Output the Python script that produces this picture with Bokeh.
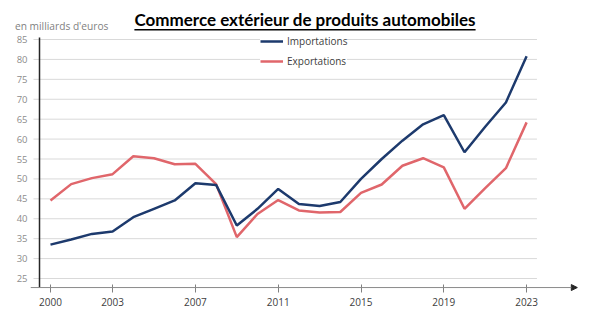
from bokeh.plotting import figure
from bokeh.layouts import column
from bokeh.models import (Range1d, FixedTicker, Arrow, NormalHead,
                          ColumnDataSource, Div)
from bokeh.embed import file_html
from bokeh.resources import INLINE

# ---- data ----
years = list(range(2000, 2024))
importations = [33.5, 34.8, 36.2, 36.8, 40.4, 42.5, 44.6, 48.9, 48.5, 38.3,
                42.5, 47.5, 43.7, 43.2, 44.2, 50.0, 55.0, 59.6, 63.7, 66.0,
                56.7, 63.1, 69.2, 80.8]
exportations = [44.6, 48.7, 50.2, 51.2, 55.7, 55.2, 53.7, 53.8, 48.7, 35.4,
                41.2, 44.7, 42.1, 41.6, 41.7, 46.5, 48.6, 53.3, 55.2, 52.9,
                42.5, 47.7, 52.7, 64.2]
x_tick_years = [2000, 2003, 2007, 2011, 2015, 2019, 2023]
y_ticks = [25, 30, 35, 40, 45, 50, 55, 60, 65, 70, 75, 80, 85]

title_text = "Commerce extérieur de produits automobiles"
unit_text = "en milliards d'euros"

BLUE = "#1d3a6d"
RED = "#e0666b"

# ranges / axis geometry
x_start, x_end = 1999.034, 2025.70
y_start, y_end = 21.49, 87.26
y_axis_x = 1999.469      # where the vertical axis line sits
x_axis_y = 22.73         # where the horizontal axis line sits
grid_x0, grid_x1 = 1999.178, 2023.5
y_axis_top = 85.5
arrow_tip = 2025.45

# ---- header (title + unit) ----
header_html = (
    '<div style="position:relative;width:609px;height:30px;margin:0;padding:0;">'
    '<span style="position:absolute;left:15px;top:21px;white-space:nowrap;'
    'font-family:\'Open Sans\';font-size:10.2px;line-height:10px;color:#7f7f7f;">'
    + unit_text + '</span>'
    '<span style="position:absolute;left:0;width:610px;top:11px;text-align:center;'
    'white-space:nowrap;font-family:Lato;font-weight:bold;font-size:17px;line-height:17px;'
    'color:#000;text-decoration:underline;text-decoration-thickness:2px;'
    'text-underline-offset:3px;">' + title_text + '</span>'
    '</div>'
)
header = Div(text=header_html, width=609, height=30,
             styles={"margin": "0", "padding": "0"})

p = figure(width=609, height=291,
           x_range=Range1d(x_start, x_end), y_range=Range1d(y_start, y_end),
           output_backend="svg", toolbar_location=None,
           min_border_left=30, min_border_right=27,
           min_border_top=0, min_border_bottom=29)
p.outline_line_color = None
p.background_fill_color = "white"
p.border_fill_color = "white"
p.xgrid.visible = False
p.ygrid.visible = False

# gridlines
n = len(y_ticks)
p.segment(x0=[grid_x0] * n, x1=[grid_x1] * n, y0=y_ticks, y1=y_ticks,
          line_color="#d9d9d9", line_width=1)

# axis lines
p.segment(x0=[y_axis_x], x1=[y_axis_x], y0=[x_axis_y], y1=[y_axis_top],
          line_color="#262626", line_width=1.5)
p.add_layout(Arrow(end=NormalHead(size=6, fill_color="#262626", line_color="#262626"),
                   x_start=x_start, y_start=x_axis_y, x_end=arrow_tip, y_end=x_axis_y,
                   line_color="#8a8a8a", line_width=1))

src = ColumnDataSource(dict(year=years, imp=importations, exp=exportations))
p.line("year", "exp", source=src, line_color=RED, line_width=2.5,
       legend_label="Exportations")
p.line("year", "imp", source=src, line_color=BLUE, line_width=2.5,
       legend_label="Importations")

# axes
ya = p.yaxis[0]
ya.ticker = FixedTicker(ticks=y_ticks)
ya.axis_line_color = None
ya.major_tick_line_color = None
ya.major_tick_out = 0
ya.major_tick_in = 0
ya.minor_tick_line_color = None
ya.major_label_text_color = "#8c8c8c"
ya.major_label_text_font = "Open Sans"
ya.major_label_text_font_size = "9.5px"
ya.major_label_standoff = 3

xa = p.xaxis[0]
xa.ticker = FixedTicker(ticks=x_tick_years)
xa.axis_line_color = None
xa.major_tick_line_color = "#808080"
xa.major_tick_in = 8
xa.major_tick_out = 0
xa.minor_tick_line_color = None
xa.major_label_text_color = "#404040"
xa.major_label_text_font = "Open Sans"
xa.major_label_text_font_size = "10px"
xa.major_label_standoff = 5

# legend
leg = p.legend[0]
leg.items = list(reversed(leg.items))
leg.location = (230, 221.7)
leg.margin = 0
leg.padding = 2
leg.spacing = 2
leg.glyph_width = 23
leg.glyph_height = 18
leg.label_height = 18
leg.label_standoff = 4
leg.label_text_font = "Open Sans"
leg.label_text_font_size = "10px"
leg.label_text_color = "#404040"
leg.border_line_color = None
leg.background_fill_color = "white"
leg.background_fill_alpha = 1

layout = column(header, p, spacing=0)
open("out.html", "w").write(file_html(layout, INLINE))
